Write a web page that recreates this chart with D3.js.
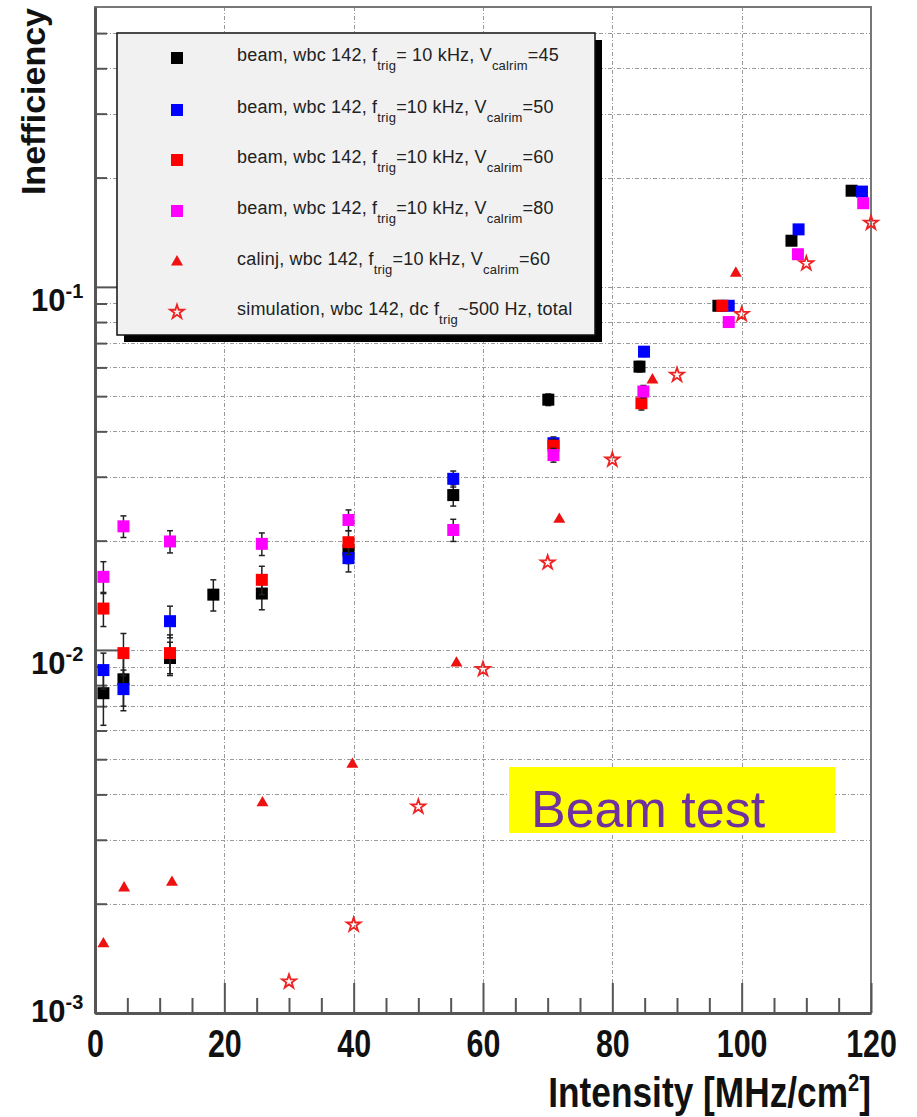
<!DOCTYPE html>
<html>
<head>
<meta charset="utf-8">
<script src="https://cdn.jsdelivr.net/npm/d3@7"></script>
<style>
body { margin: 0; background: #fff; }
svg { display: block; }
</style>
</head>
<body>
<script>
// values (x = intensity, y = inefficiency, err = error bar half size)
var blackX   = [1.3, 4.4, 11.6, 18.3, 25.8, 39.2, 55.4, 70.1, 84.2, 96.4, 107.7, 117.0];
var blackY   = [0.0076, 0.0083, 0.0095, 0.0142, 0.0143, 0.0188, 0.0267, 0.0489, 0.0603, 0.0887, 0.134, 0.184];
var blackErr = [0.0014, 0.0013, 0.0010, 0.0014, 0.0014, 0.0015, 0.0018, 0.0018, 0.002, 0.002, 0.003, 0.003];

var blueX   = [1.3, 4.4, 11.6, 39.2, 55.4, 70.9, 84.9, 98.0, 108.8, 118.6];
var blueY   = [0.0088, 0.0078, 0.0120, 0.0179, 0.0296, 0.0371, 0.0663, 0.0887, 0.144, 0.183];
var blueErr = [0.0010, 0.0010, 0.0012, 0.0015, 0.0015, 0.0015, 0.002, 0.002, 0.003, 0.003];

var redX   = [1.3, 4.4, 11.6, 25.8, 39.2, 70.9, 84.5, 97.0];
var redY   = [0.0130, 0.0098, 0.0098, 0.0156, 0.0198, 0.0365, 0.0478, 0.0887];
var redErr = [0.0014, 0.0013, 0.0012, 0.0014, 0.0015, 0.0015, 0.002, 0.002];

var magentaX   = [1.3, 4.4, 11.6, 25.8, 39.2, 55.4, 70.9, 84.8, 98.0, 108.7, 118.8];
var magentaY   = [0.0159, 0.0219, 0.0199, 0.0196, 0.0228, 0.0214, 0.0344, 0.0515, 0.0800, 0.123, 0.170];
var magentaErr = [0.0016, 0.0015, 0.0014, 0.0014, 0.0015, 0.0015, 0.0015, 0.002, 0.002, 0.003, 0.003];

var calinjX = [1.3, 4.5, 11.9, 25.9, 39.8, 55.9, 71.8, 86.2, 99.1];
var calinjY = [0.00155, 0.00221, 0.00229, 0.00379, 0.00484, 0.0092, 0.0229, 0.0554, 0.109];

var simX = [30, 40, 50, 60, 70, 80, 90, 100, 110, 120];
var simY = [0.00122, 0.00175, 0.0037, 0.00885, 0.0174, 0.0334, 0.0572, 0.0841, 0.116, 0.150];

var xTicks = [0, 20, 40, 60, 80, 100, 120];
var yDecades = [-3, -2, -1];

var legendLabels = [
  [["beam, wbc 142, f", 0], ["trig", 1], ["= 10 kHz, V", 0], ["calrim", 1], ["=45", 0]],
  [["beam, wbc 142, f", 0], ["trig", 1], ["=10 kHz, V", 0], ["calrim", 1], ["=50", 0]],
  [["beam, wbc 142, f", 0], ["trig", 1], ["=10 kHz, V", 0], ["calrim", 1], ["=60", 0]],
  [["beam, wbc 142, f", 0], ["trig", 1], ["=10 kHz, V", 0], ["calrim", 1], ["=80", 0]],
  [["calinj, wbc 142, f", 0], ["trig", 1], ["=10 kHz, V", 0], ["calrim", 1], ["=60", 0]],
  [["simulation, wbc 142, dc f", 0], ["trig", 1], ["~500 Hz, total", 0]]
];

var W = 917, H = 1117;
var svg = d3.select("body").append("svg").attr("width", W).attr("height", H);

var x = d3.scaleLinear().domain([0, 120]).range([95, 871]);
var y = d3.scaleLog().domain([0.001, 0.59]).range([1013, 7]);

// all log ticks (1..9 per decade) inside the range
var yAll = [];
yDecades.forEach(function(d) {
  for (var k = 1; k < 10; k++) {
    var v = k * Math.pow(10, d);
    if (v <= 0.59) yAll.push(v);
  }
});
var yMinor = yAll.filter(function(v) { return Math.abs(Math.log10(v) - Math.round(Math.log10(v))) > 1e-6; });
var yMajor = yAll.filter(function(v) { return yMinor.indexOf(v) < 0; });

// grid
var grid = svg.append("g").attr("stroke", "#9a9a9a").attr("stroke-width", 1).attr("stroke-dasharray", "4,2,1,2");
grid.selectAll("line.h").data(yAll).enter().append("line")
  .attr("x1", 95).attr("x2", 871)
  .attr("y1", function(d) { return Math.round(y(d)) + 0.5; })
  .attr("y2", function(d) { return Math.round(y(d)) + 0.5; });
grid.selectAll("line.v").data(xTicks.slice(1, -1)).enter().append("line")
  .attr("y1", 7).attr("y2", 1013)
  .attr("x1", function(d) { return Math.round(x(d)) + 0.5; })
  .attr("x2", function(d) { return Math.round(x(d)) + 0.5; });

// frame
svg.append("rect").attr("x", 95).attr("y", 7).attr("width", 776).attr("height", 1006)
  .attr("fill", "none").attr("stroke", "#777").attr("stroke-width", 2);

// bottom axis (ticks point up into the plot)
var xMinor = d3.range(0, 121, 5).filter(function(v) { return v % 20 != 0; });
svg.append("g").attr("transform", "translate(0,1013)")
  .call(d3.axisBottom(x).tickValues(xMinor).tickSizeInner(-15).tickSizeOuter(0).tickFormat(""))
  .call(function(g) { g.select(".domain").remove(); g.selectAll("line").attr("stroke", "#555").attr("stroke-width", 2); });
var xAxis = svg.append("g").attr("transform", "translate(0,1013)")
  .call(d3.axisBottom(x).tickValues(xTicks).tickSizeInner(-30).tickSizeOuter(0).tickPadding(17));
xAxis.select(".domain").attr("stroke", "#555").attr("stroke-width", 3);
xAxis.selectAll("line").attr("stroke", "#555").attr("stroke-width", 2);
// condensed look of the original labels
xAxis.selectAll("text").attr("fill", "#111").attr("transform", "scale(0.8,1)")
  .style("font-family", "'Liberation Sans', Arial, Helvetica, sans-serif")
  .style("font-weight", "bold").style("font-size", "38px");

// left axis (ticks point right)
svg.append("g").attr("transform", "translate(95,0)")
  .call(d3.axisLeft(y).tickValues(yMinor).tickSizeInner(-12).tickSizeOuter(0).tickFormat(""))
  .call(function(g) { g.select(".domain").remove(); g.selectAll("line").attr("stroke", "#555").attr("stroke-width", 2); });
var yAxis = svg.append("g").attr("transform", "translate(95,0)")
  .call(d3.axisLeft(y).tickValues(yMajor).tickSizeInner(-24).tickSizeOuter(0).tickFormat(""));
yAxis.select(".domain").attr("stroke", "#555").attr("stroke-width", 3);
yAxis.selectAll("line").attr("stroke", "#555").attr("stroke-width", 2);

// y tick labels 10^n
var yLab = svg.append("g").attr("fill", "#111")
  .style("font-family", "'Liberation Sans', Arial, Helvetica, sans-serif").style("font-weight", "bold");
yDecades.forEach(function(d) {
  var py = y(Math.pow(10, d)) + (d == -3 ? 9 : 24);
  var t = yLab.append("text").attr("x", 31).attr("y", py).style("font-size", "31px");
  t.append("tspan").text("10");
  t.append("tspan").attr("dy", -13).style("font-size", "20px").text("-" + (-d));
});

// axis titles
svg.append("text").attr("transform", "translate(45,8) rotate(-90)")
  .attr("text-anchor", "end").attr("fill", "#111")
  .style("font-family", "'Liberation Sans', Arial, Helvetica, sans-serif")
  .style("font-weight", "bold").style("font-size", "34px").text("Inefficiency");
var xt = svg.append("text").attr("transform", "translate(871,1107) scale(0.84,1)")
  .attr("text-anchor", "end").attr("fill", "#111")
  .style("font-family", "'Liberation Sans', Arial, Helvetica, sans-serif")
  .style("font-weight", "bold").style("font-size", "42px");
xt.append("tspan").text("Intensity [MHz/cm");
xt.append("tspan").attr("dy", -16).style("font-size", "24px").text("2");
xt.append("tspan").attr("dy", 16).text("]");

// data series
var squareSeries = [
  { xs: blackX, ys: blackY, es: blackErr, color: "#000000" },
  { xs: blueX, ys: blueY, es: blueErr, color: "#0000ff" },
  { xs: redX, ys: redY, es: redErr, color: "#ff0000" },
  { xs: magentaX, ys: magentaY, es: magentaErr, color: "#ff00ff" }
];

squareSeries.forEach(function(s) {
  var pts = s.xs.map(function(v, i) { return { x: v, y: s.ys[i], e: s.es[i] }; });
  var g = svg.append("g");
  var eb = g.append("g").attr("stroke", "#222").attr("stroke-width", 1.5);
  eb.selectAll("line.bar").data(pts).enter().append("line")
    .attr("x1", function(d) { return x(d.x); }).attr("x2", function(d) { return x(d.x); })
    .attr("y1", function(d) { return y(d.y + d.e); }).attr("y2", function(d) { return y(d.y - d.e); });
  [1, -1].forEach(function(sg) {
    eb.selectAll(null).data(pts).enter().append("line")
      .attr("x1", function(d) { return x(d.x) - 3; }).attr("x2", function(d) { return x(d.x) + 3; })
      .attr("y1", function(d) { return y(d.y + sg * d.e); }).attr("y2", function(d) { return y(d.y + sg * d.e); });
  });
  g.selectAll("rect").data(pts).enter().append("rect")
    .attr("x", function(d) { return x(d.x) - 6; }).attr("y", function(d) { return y(d.y) - 6; })
    .attr("width", 12).attr("height", 12).attr("fill", s.color);
});

var triPts = calinjX.map(function(v, i) { return { x: v, y: calinjY[i] }; });
svg.append("g").selectAll("path").data(triPts).enter().append("path")
  .attr("d", d3.symbol(d3.symbolTriangle, 62))
  .attr("transform", function(d) { return "translate(" + x(d.x) + "," + y(d.y) + ")"; })
  .attr("fill", "#ee1111");

var simPts = simX.map(function(v, i) { return { x: v, y: simY[i] }; });
svg.append("g").selectAll("path").data(simPts).enter().append("path")
  .attr("d", d3.symbol(d3.symbolStar, 60))
  .attr("transform", function(d) { return "translate(" + x(d.x) + "," + y(d.y) + ")"; })
  .attr("fill", "none").attr("stroke", "#ee2222").attr("stroke-width", 1.8);

// legend
var lg = svg.append("g");
lg.append("rect").attr("x", 124).attr("y", 40).attr("width", 478).attr("height", 302).attr("fill", "#000");
lg.append("rect").attr("x", 117).attr("y", 33).attr("width", 478).attr("height", 302)
  .attr("fill", "#f1f1f1").attr("stroke", "#111").attr("stroke-width", 1.5);
var rowY = [58, 110, 160, 211, 262, 312];
var legendMarks = ["#000000", "#0000ff", "#ff0000", "#ff00ff", "tri", "star"];
legendMarks.forEach(function(m, i) {
  if (m == "tri") {
    lg.append("path").attr("d", d3.symbol(d3.symbolTriangle, 62)).attr("transform", "translate(177," + rowY[i] + ")").attr("fill", "#ee1111");
  } else if (m == "star") {
    lg.append("path").attr("d", d3.symbol(d3.symbolStar, 60)).attr("transform", "translate(177," + rowY[i] + ")")
      .attr("fill", "none").attr("stroke", "#ee2222").attr("stroke-width", 1.8);
  } else {
    lg.append("rect").attr("x", 171).attr("y", rowY[i] - 6).attr("width", 12).attr("height", 12).attr("fill", m);
  }
  var t = lg.append("text").attr("x", 237).attr("y", rowY[i] + 3).attr("fill", "#222")
    .style("font-family", "'Liberation Sans', Arial, Helvetica, sans-serif").style("font-size", "18px")
    .style("letter-spacing", "0.2px");
  var low = false;
  legendLabels[i].forEach(function(p) {
    var ts = t.append("tspan").text(p[0]);
    if (p[1] == 1 && !low) { ts.attr("dy", 9).style("font-size", "13px"); low = true; }
    else if (p[1] == 0 && low) { ts.attr("dy", -9); low = false; }
  });
});

// "Beam test" label
svg.append("rect").attr("x", 509).attr("y", 767).attr("width", 326).attr("height", 66).attr("fill", "#ffff00");
svg.append("text").attr("x", 531).attr("y", 827).attr("fill", "#7030a0")
  .style("font-family", "'Liberation Sans', Arial, Helvetica, sans-serif").style("font-size", "52px")
  .text("Beam test");
</script>
</body>
</html>
